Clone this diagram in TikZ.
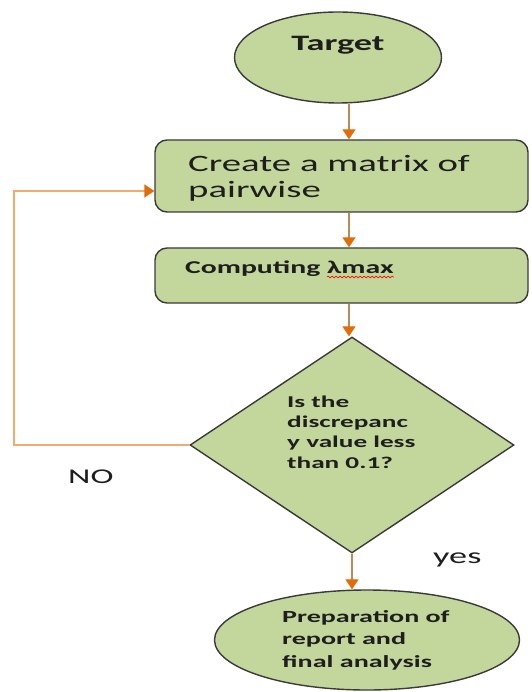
\documentclass[tikz,border=0pt]{standalone}
\usepackage{fontspec}
\setmainfont{Carlito}[FakeStretch=1.65]
\usetikzlibrary{shapes.geometric,arrows.meta,calc,decorations.pathmorphing}

\definecolor{boxfill}{HTML}{C3D69B}
\definecolor{boxline}{HTML}{3A3A3A}
\definecolor{flowline}{HTML}{B98A5C}
\definecolor{loopline}{HTML}{F2AA70}
\definecolor{tipcol}{HTML}{E36C09}
\definecolor{ink}{HTML}{1E1E1E}

\begin{document}
\begin{tikzpicture}[x=1pt,y=-1pt,
  shapebox/.style={draw=boxline,fill=boxfill,line width=1.4pt,inner sep=0pt},
  tip/.style={-{Triangle[width=13pt,length=10pt,fill=tipcol,color=tipcol]}},
  flow/.style={draw=flowline,line width=1.2pt,tip},
  loopflow/.style={draw=loopline,line width=1.8pt,tip},
  label/.style={text=ink,inner sep=0pt,anchor=base west,align=left},
  squiggle/.style={draw=red,line width=0.6pt,decorate,
    decoration={snake,amplitude=0.9pt,segment length=4pt}}]

\useasboundingbox (0,0) rectangle (531,692);

% shapes of the flow chart
\node[shapebox,ellipse,minimum width=207pt,minimum height=91pt] (target) at (338,57.5) {};
\node[shapebox,rounded corners=12pt,minimum width=373pt,minimum height=72pt] (pairbox) at (341.5,176) {};
\node[shapebox,rounded corners=12pt,minimum width=373pt,minimum height=55pt] (compbox) at (341.5,275.5) {};
\node[shapebox,diamond,minimum width=324pt,minimum height=216pt] (check) at (352,445) {};
\node[shapebox,ellipse,minimum width=305pt,minimum height=100pt] (report) at (367,640) {};

% texts (multi-line labels are placed by the baseline of their last line)
\node[label,anchor=base,font=\bfseries\fontsize{22}{26}\selectfont] (targettxt) at (338,51) {Target};
\node[label,font=\fontsize{23.5}{26}\selectfont] (pairtxt) at (188,198) {Create a matrix of\\pairwise};
\node[label,font=\bfseries\fontsize{18}{22}\selectfont] (comptxt) at (185,273) {Computing λmax};
\node[label,font=\bfseries\fontsize{16.5}{20.3}\selectfont] (checktxt) at (287,468) {Is the\\discrepanc\\y value less\\than 0.1?};
\node[label,font=\bfseries\fontsize{17}{22.5}\selectfont] (reporttxt) at (282,667) {Preparation of\\report and\\final analysis};
\node[label,font=\fontsize{21}{24}\selectfont] (no) at (68,483) {NO};
\node[label,font=\fontsize{22}{24}\selectfont] (yes) at (433,563) {yes};

% spelling mark under the symbol
\draw[squiggle] ($(comptxt.base east)+(-67,4)$) -- ($(comptxt.base east)+(0,4)$);

% connectors
\coordinate (col) at (349,0);
\coordinate (loopx) at (14,0);
\coordinate (loopin) at ($(pairbox.west)+(0,15)$);
\draw[flow] (target.south -| col) -- (pairbox.north -| col);
\draw[flow] (pairbox.south -| col) -- (compbox.north -| col);
\draw[flow] (compbox.south -| col) -- (check.north -| col);
\draw[flow] (check.south) -- (check.south |- report.north);
\draw[loopflow] (check.west) -- (check.west -| loopx) -- (loopx |- loopin) -- (loopin);

\end{tikzpicture}
\end{document}
